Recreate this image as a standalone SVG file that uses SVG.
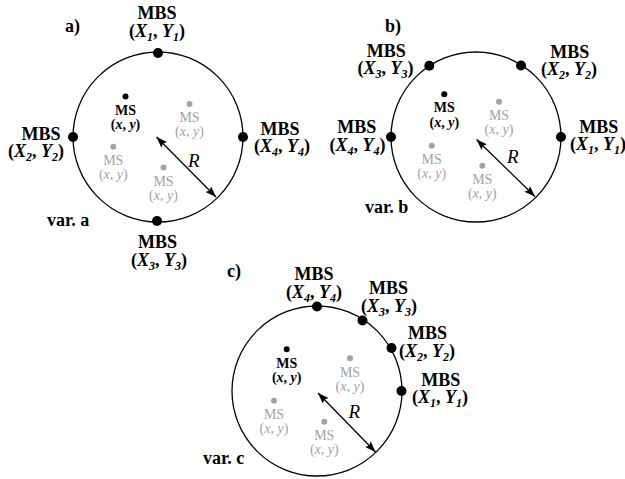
<svg xmlns="http://www.w3.org/2000/svg" width="625" height="479" viewBox="0 0 625 479">
<defs>
<style>
text{font-family:"Liberation Serif","Times New Roman",serif;}
.b{font-weight:bold;font-size:18px;fill:#000;}
.m{text-anchor:middle;}
.i{font-style:italic;}
.sub{font-style:italic;font-size:12px;}
.ms{font-size:14px;text-anchor:middle;}
.msk{font-weight:bold;fill:#000;}
.msg{fill:#a3a3a3;}
.r{font-style:italic;font-size:19px;fill:#000;}
.ring{fill:none;stroke:#000;stroke-width:1.3;}
.bs{fill:#000;}
.dk{fill:#000;}
.dg{fill:#a3a3a3;}
.arr{stroke:#000;stroke-width:1.3;fill:none;marker-start:url(#ah);marker-end:url(#ah);}
</style>
<marker id="ah" viewBox="0 0 11 8" refX="11" refY="4" markerWidth="11" markerHeight="8" markerUnits="userSpaceOnUse" orient="auto-start-reverse">
<path d="M0,0 L11,4 L0,8 L2,4 z" fill="#000"/>
</marker>
</defs>

<!-- Panel a -->
<g id="panel-a">
<text class="b" x="65" y="32">a)</text>
<circle id="circle-a" class="ring" cx="158" cy="137" r="85"/>
<text class="b" x="47" y="226">var. a</text>
</g>
<g id="a-mbs1"><circle class="bs" cx="158" cy="53" r="5"/>
<text class="b m" x="157" y="19">MBS</text>
<text class="b m" x="157" y="37">(<tspan class="i">X</tspan><tspan class="sub" dy="4">1</tspan><tspan dy="-4">, </tspan><tspan class="i">Y</tspan><tspan class="sub" dy="4">1</tspan><tspan dy="-4">)</tspan></text></g>
<g id="a-mbs2"><circle class="bs" cx="73" cy="137" r="5"/>
<text class="b m" x="41" y="140">MBS</text>
<text class="b m" x="36" y="157">(<tspan class="i">X</tspan><tspan class="sub" dy="4">2</tspan><tspan dy="-4">, </tspan><tspan class="i">Y</tspan><tspan class="sub" dy="4">2</tspan><tspan dy="-4">)</tspan></text></g>
<g id="a-mbs4"><circle class="bs" cx="243" cy="137" r="5"/>
<text class="b m" x="280" y="134.5">MBS</text>
<text class="b m" x="282" y="151.5">(<tspan class="i">X</tspan><tspan class="sub" dy="4">4</tspan><tspan dy="-4">, </tspan><tspan class="i">Y</tspan><tspan class="sub" dy="4">4</tspan><tspan dy="-4">)</tspan></text></g>
<g id="a-mbs3"><circle class="bs" cx="157" cy="221" r="5"/>
<text class="b m" x="157.5" y="248">MBS</text>
<text class="b m" x="159" y="265.5">(<tspan class="i">X</tspan><tspan class="sub" dy="4">3</tspan><tspan dy="-4">, </tspan><tspan class="i">Y</tspan><tspan class="sub" dy="4">3</tspan><tspan dy="-4">)</tspan></text></g>
<g id="a-ms0"><circle class="dk" cx="125.5" cy="96.5" r="3"/>
<text class="ms msk" x="125.5" y="114.5">MS</text>
<text class="ms msk" x="125.5" y="128.5">(<tspan class="i">x</tspan>, <tspan class="i">y</tspan>)</text></g>
<g id="a-ms1"><circle class="dg" cx="189.5" cy="104" r="3"/>
<text class="ms msg" x="189.5" y="122">MS</text>
<text class="ms msg" x="189.5" y="136">(<tspan class="i">x</tspan>, <tspan class="i">y</tspan>)</text></g>
<g id="a-ms2"><circle class="dg" cx="113.3" cy="146.7" r="3"/>
<text class="ms msg" x="113.3" y="164.7">MS</text>
<text class="ms msg" x="113.3" y="178.7">(<tspan class="i">x</tspan>, <tspan class="i">y</tspan>)</text></g>
<g id="a-ms3"><circle class="dg" cx="163.5" cy="167.5" r="3"/>
<text class="ms msg" x="163.5" y="185.5">MS</text>
<text class="ms msg" x="163.5" y="199.5">(<tspan class="i">x</tspan>, <tspan class="i">y</tspan>)</text></g>
<text class="r" x="188" y="167">R</text>

<!-- Panel b -->
<g id="panel-b">
<text class="b" x="385" y="32">b)</text>
<circle id="circle-b" class="ring" cx="476" cy="137" r="85"/>
<text class="b" x="365" y="213">var. b</text>
</g>
<g id="b-mbs3"><circle class="bs" cx="429.3" cy="65.7" r="5"/>
<text class="b m" x="386.3" y="56.5">MBS</text>
<text class="b m" x="385.6" y="73.5">(<tspan class="i">X</tspan><tspan class="sub" dy="4">3</tspan><tspan dy="-4">, </tspan><tspan class="i">Y</tspan><tspan class="sub" dy="4">3</tspan><tspan dy="-4">)</tspan></text></g>
<g id="b-mbs2"><circle class="bs" cx="521" cy="65.5" r="5"/>
<text class="b m" x="569.7" y="58.3">MBS</text>
<text class="b m" x="569" y="75.3">(<tspan class="i">X</tspan><tspan class="sub" dy="4">2</tspan><tspan dy="-4">, </tspan><tspan class="i">Y</tspan><tspan class="sub" dy="4">2</tspan><tspan dy="-4">)</tspan></text></g>
<g id="b-mbs4"><circle class="bs" cx="391" cy="137" r="5"/>
<text class="b m" x="356.7" y="133.3">MBS</text>
<text class="b m" x="357.5" y="150.5">(<tspan class="i">X</tspan><tspan class="sub" dy="4">4</tspan><tspan dy="-4">, </tspan><tspan class="i">Y</tspan><tspan class="sub" dy="4">4</tspan><tspan dy="-4">)</tspan></text></g>
<g id="b-mbs1"><circle class="bs" cx="561" cy="137" r="5"/>
<text class="b m" x="598.8" y="133.3">MBS</text>
<text class="b m" x="598" y="150.3">(<tspan class="i">X</tspan><tspan class="sub" dy="4">1</tspan><tspan dy="-4">, </tspan><tspan class="i">Y</tspan><tspan class="sub" dy="4">1</tspan><tspan dy="-4">)</tspan></text></g>
<g id="b-ms0"><circle class="dk" cx="444.3" cy="94.3" r="3"/>
<text class="ms msk" x="444.3" y="112.3">MS</text>
<text class="ms msk" x="444.3" y="126.5">(<tspan class="i">x</tspan>, <tspan class="i">y</tspan>)</text></g>
<g id="b-ms1"><circle class="dg" cx="499" cy="101.7" r="3"/>
<text class="ms msg" x="499" y="119.7">MS</text>
<text class="ms msg" x="499" y="133.7">(<tspan class="i">x</tspan>, <tspan class="i">y</tspan>)</text></g>
<g id="b-ms2"><circle class="dg" cx="431.7" cy="145.7" r="3"/>
<text class="ms msg" x="431.7" y="163.7">MS</text>
<text class="ms msg" x="431.7" y="177.7">(<tspan class="i">x</tspan>, <tspan class="i">y</tspan>)</text></g>
<g id="b-ms3"><circle class="dg" cx="482.3" cy="165.7" r="3"/>
<text class="ms msg" x="482.3" y="183.7">MS</text>
<text class="ms msg" x="482.3" y="197.7">(<tspan class="i">x</tspan>, <tspan class="i">y</tspan>)</text></g>
<text class="r" x="507" y="163">R</text>

<!-- Panel c -->
<g id="panel-c">
<text class="b" x="227" y="277">c)</text>
<circle id="circle-c" class="ring" cx="317" cy="391" r="85"/>
<text class="b" x="203" y="463.5">var. c</text>
</g>
<g id="c-mbs4"><circle class="bs" cx="317" cy="306.5" r="5"/>
<text class="b m" x="314" y="280">MBS</text>
<text class="b m" x="314" y="297.5">(<tspan class="i">X</tspan><tspan class="sub" dy="4">4</tspan><tspan dy="-4">, </tspan><tspan class="i">Y</tspan><tspan class="sub" dy="4">4</tspan><tspan dy="-4">)</tspan></text></g>
<g id="c-mbs3"><circle class="bs" cx="362.5" cy="320.5" r="5"/>
<text class="b m" x="388.5" y="294">MBS</text>
<text class="b m" x="389" y="311.5">(<tspan class="i">X</tspan><tspan class="sub" dy="4">3</tspan><tspan dy="-4">, </tspan><tspan class="i">Y</tspan><tspan class="sub" dy="4">3</tspan><tspan dy="-4">)</tspan></text></g>
<g id="c-mbs2"><circle class="bs" cx="391.5" cy="348" r="5"/>
<text class="b m" x="427.5" y="339.3">MBS</text>
<text class="b m" x="427" y="356.5">(<tspan class="i">X</tspan><tspan class="sub" dy="4">2</tspan><tspan dy="-4">, </tspan><tspan class="i">Y</tspan><tspan class="sub" dy="4">2</tspan><tspan dy="-4">)</tspan></text></g>
<g id="c-mbs1"><circle class="bs" cx="401.5" cy="391" r="5"/>
<text class="b m" x="440.8" y="385.7">MBS</text>
<text class="b m" x="440" y="403.3">(<tspan class="i">X</tspan><tspan class="sub" dy="4">1</tspan><tspan dy="-4">, </tspan><tspan class="i">Y</tspan><tspan class="sub" dy="4">1</tspan><tspan dy="-4">)</tspan></text></g>
<g id="c-ms0"><circle class="dk" cx="286.7" cy="349.3" r="3"/>
<text class="ms msk" x="286.7" y="368">MS</text>
<text class="ms msk" x="286.7" y="381.8">(<tspan class="i">x</tspan>, <tspan class="i">y</tspan>)</text></g>
<g id="c-ms1"><circle class="dg" cx="350" cy="358.3" r="3"/>
<text class="ms msg" x="350" y="376.5">MS</text>
<text class="ms msg" x="350" y="390.5">(<tspan class="i">x</tspan>, <tspan class="i">y</tspan>)</text></g>
<g id="c-ms2"><circle class="dg" cx="274" cy="400.7" r="3"/>
<text class="ms msg" x="274" y="418.7">MS</text>
<text class="ms msg" x="274" y="432.7">(<tspan class="i">x</tspan>, <tspan class="i">y</tspan>)</text></g>
<g id="c-ms3"><circle class="dg" cx="324.3" cy="421.7" r="3"/>
<text class="ms msg" x="324.3" y="439.7">MS</text>
<text class="ms msg" x="324.3" y="453.7">(<tspan class="i">x</tspan>, <tspan class="i">y</tspan>)</text></g>
<text class="r" x="348.5" y="418">R</text>

<!-- Connectors: radius arrows -->
<g id="connectors">
<line class="arr" x1="156.5" y1="137" x2="216" y2="197"/>
<line class="arr" x1="476.5" y1="139.5" x2="535" y2="196.5"/>
<line class="arr" x1="318" y1="393" x2="375.5" y2="452"/>
</g>
</svg>
